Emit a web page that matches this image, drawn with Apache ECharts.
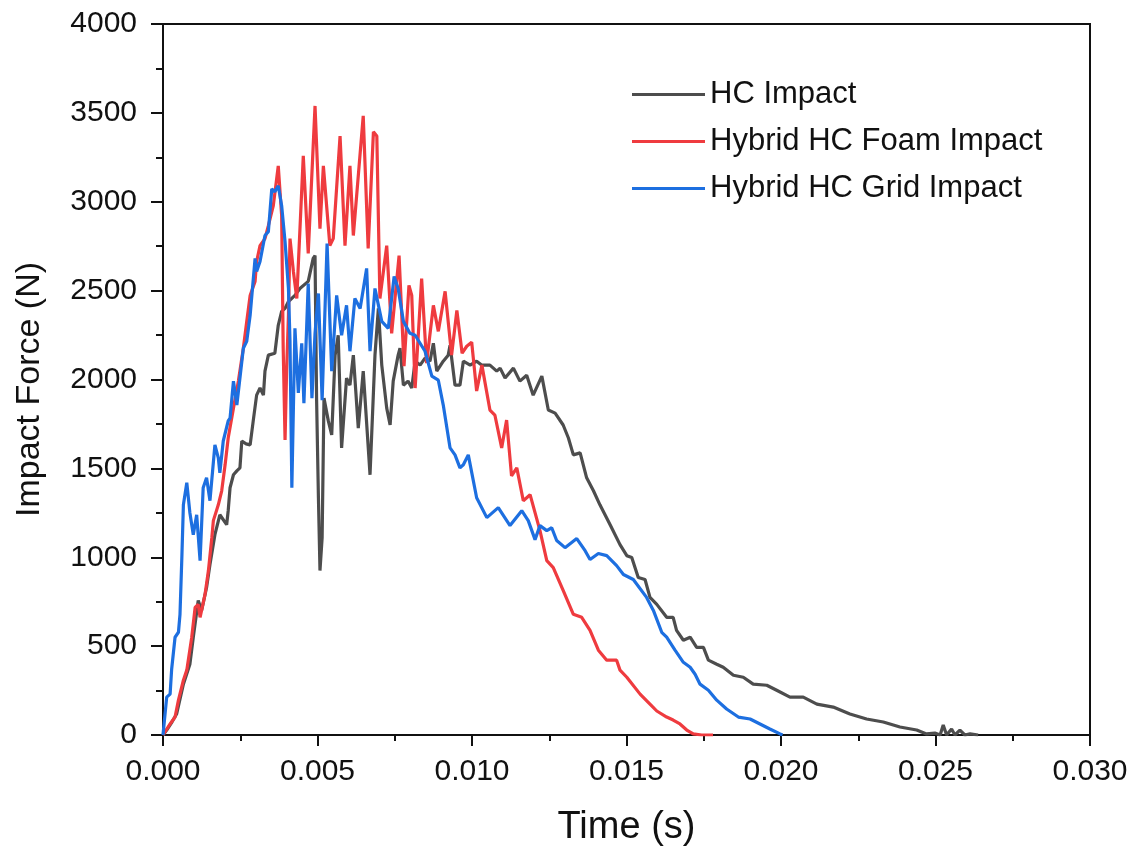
<!DOCTYPE html>
<html>
<head>
<meta charset="utf-8">
<script src="https://cdn.jsdelivr.net/npm/echarts@6/dist/echarts.min.js"></script>
<style>
html,body{margin:0;padding:0;background:#fff;}
#chart{width:1140px;height:852px;}
</style>
</head>
<body>
<div id="chart"></div>
<script>
const seriesNames = ['HC Impact', 'Hybrid HC Foam Impact', 'Hybrid HC Grid Impact'];
const seriesColors = ['#4d4d4d', '#ef3b3f', '#1d6fe0'];

const hcTime = [0,0.00012,0.00029,0.00044,0.00066,0.00087,0.00098,0.00114,0.00125,0.00141,
0.00152,0.00168,0.00184,0.00206,0.00211,0.00217,0.00228,0.00239,0.00249,0.00255,
0.00269,0.00282,0.00292,0.00303,0.00314,0.00325,0.00330,0.00341,0.00362,0.00373,
0.00384,0.00395,0.00406,0.00427,0.00443,0.00470,0.00486,0.00492,0.00497,0.00503,
0.00508,0.00515,0.00521,0.00535,0.00546,0.00557,0.00567,0.00578,0.00594,0.00605,
0.00616,0.00632,0.00648,0.00670,0.00686,0.00697,0.00708,0.00724,0.00735,0.00745,
0.00761,0.00767,0.00778,0.00793,0.00805,0.00816,0.00832,0.00848,0.00864,0.00875,
0.00886,0.00907,0.00923,0.00929,0.00945,0.00961,0.00972,0.00994,0.01015,0.01031,
0.01058,0.01080,0.01091,0.01107,0.01134,0.01155,0.01177,0.01198,0.01226,0.01247,
0.01269,0.01295,0.01312,0.01328,0.01350,0.01371,0.01393,0.01414,0.01447,0.01479,
0.01501,0.01517,0.01538,0.01560,0.01576,0.01598,0.01630,0.01651,0.01662,0.01684,
0.01706,0.01727,0.01749,0.01765,0.01792,0.01813,0.01846,0.01878,0.01910,0.01954,
0.01986,0.02029,0.02072,0.02116,0.02169,0.02223,0.02277,0.02331,0.02385,0.02439,
0.02471,0.02498,0.02515,0.02525,0.02536,0.02552,0.02563,0.02579,0.02595,0.02612,0.02638];
const hcForce = [0,28,73,118,286,398,550,757,701,830,
959,1127,1239,1183,1262,1391,1464,1486,1503,1654,
1638,1632,1767,1912,1952,1912,2047,2137,2148,2305,
2383,2400,2439,2473,2512,2552,2681,2697,1895,1335,
925,1110,1895,1767,1688,2137,2249,1615,2008,1968,
2137,1727,2047,1464,2137,2400,2081,1839,1744,1991,
2137,2176,1968,1991,1952,2103,2081,2120,2103,2204,
2047,2103,2137,2193,1968,1968,2103,2081,2103,2081,
2081,2047,2064,2008,2064,1991,2024,1912,2019,1828,
1811,1744,1671,1576,1587,1447,1374,1295,1183,1071,
1009,998,886,875,774,735,662,662,589,533,
550,493,493,421,398,381,336,325,286,280,
252,213,213,174,157,118,90,73,45,28,
6,11,0,56,0,34,0,28,0,6,0];

const foamTime = [0,0.00023,0.00039,0.00050,0.00066,0.00077,0.00093,0.00104,0.00114,0.00120,
0.00136,0.00147,0.00158,0.00163,0.00179,0.00190,0.00201,0.00211,0.00228,0.00244,
0.00260,0.00271,0.00282,0.00298,0.00303,0.00314,0.00330,0.00341,0.00357,0.00373,
0.00384,0.00389,0.00395,0.00400,0.00406,0.00411,0.00422,0.00433,0.00454,0.00470,
0.00492,0.00508,0.00519,0.00540,0.00551,0.00573,0.00589,0.00605,0.00616,0.00648,
0.00664,0.00681,0.00692,0.00702,0.00724,0.00740,0.00764,0.00780,0.00796,0.00805,
0.00816,0.00837,0.00853,0.00875,0.00891,0.00913,0.00934,0.00951,0.00968,0.00983,
0.00999,0.01015,0.01032,0.01058,0.01074,0.01096,0.01112,0.01128,0.01145,0.01166,
0.01188,0.01220,0.01242,0.01263,0.01295,0.01328,0.01355,0.01382,0.01409,0.01436,
0.01468,0.01479,0.01501,0.01544,0.01576,0.01598,0.01630,0.01651,0.01673,0.01695,
0.01716,0.01743,0.01780];
const foamForce = [0,62,101,196,308,365,550,718,735,662,
791,925,1110,1206,1295,1374,1520,1671,1839,1991,
2176,2327,2473,2552,2664,2753,2793,2866,2978,3202,
2922,2176,1660,2047,2361,2793,2608,2456,3258,2709,
3539,2849,3202,2753,2793,3370,2753,3202,2810,3483,
2737,3393,3370,2456,2753,2260,2697,2075,2529,2473,
1952,2568,2092,2417,2271,2496,2137,2389,2148,2187,
2210,1935,2081,1828,1800,1615,1772,1458,1503,1318,
1352,1150,981,942,813,679,662,589,477,421,
421,365,325,230,174,135,101,84,62,28,
6,0,0];

const gridTime = [0,0.00012,0.00023,0.00028,0.00039,0.00050,0.00055,0.00061,0.00066,0.00077,
0.00087,0.00098,0.00109,0.00120,0.00130,0.00141,0.00152,0.00168,0.00179,0.00184,
0.00195,0.00211,0.00217,0.00228,0.00239,0.00260,0.00271,0.00282,0.00298,0.00303,
0.00314,0.00330,0.00341,0.00352,0.00362,0.00373,0.00384,0.00395,0.00406,0.00411,
0.00417,0.00427,0.00438,0.00449,0.00456,0.00470,0.00482,0.00492,0.00503,0.00515,
0.00531,0.00546,0.00562,0.00578,0.00594,0.00605,0.00621,0.00638,0.00659,0.00670,
0.00686,0.00708,0.00729,0.00748,0.00761,0.00778,0.00799,0.00816,0.00832,0.00848,
0.00870,0.00891,0.00907,0.00929,0.00945,0.00961,0.00972,0.00988,0.01015,0.01048,
0.01085,0.01123,0.01161,0.01182,0.01204,0.01220,0.01242,0.01258,0.01274,0.01301,
0.01339,0.01366,0.01382,0.01409,0.01436,0.01468,0.01490,0.01522,0.01565,0.01587,
0.01614,0.01630,0.01657,0.01684,0.01706,0.01722,0.01738,0.01765,0.01792,0.01824,
0.01862,0.01900,0.01932,0.01964,0.01997,0.02005];
const gridForce = [0,213,230,370,550,578,679,998,1295,1419,
1251,1127,1239,981,1391,1447,1318,1632,1559,1475,
1654,1767,1783,1991,1856,2176,2215,2361,2681,2608,
2664,2810,2832,3073,3056,3090,2978,2776,2512,2215,
1391,2288,1924,2204,1867,2540,1895,2260,2484,1884,
2765,2047,2473,2249,2417,2159,2456,2400,2625,2159,
2512,2327,2288,2580,2512,2327,2260,2249,2204,2159,
2019,1996,1856,1615,1576,1503,1520,1576,1335,1223,
1279,1178,1262,1206,1099,1178,1150,1166,1094,1054,
1105,1037,987,1021,1009,953,903,875,774,701,
578,550,477,409,381,342,286,252,196,146,
101,90,62,34,6,0];

const xTicks = [0, 0.005, 0.010, 0.015, 0.020, 0.025, 0.030];
const yTicks = [0, 500, 1000, 1500, 2000, 2500, 3000, 3500, 4000];

function zip(t, f) { return t.map((v, i) => [v, f[i]]); }
const allData = [zip(hcTime, hcForce), zip(foamTime, foamForce), zip(gridTime, gridForce)];

const FONT = '"Liberation Sans", Arial, sans-serif';
const chart = echarts.init(document.getElementById('chart'), null, {renderer: 'canvas'});
chart.setOption({
  animation: false,
  backgroundColor: '#fff',
  textStyle: {fontFamily: FONT, color: '#111'},
  grid: {left: 163, right: 50, top: 24, bottom: 114, show: true, borderColor: '#111', borderWidth: 2, backgroundColor: 'transparent'},
  legend: {
    data: seriesNames,
    orient: 'vertical',
    left: 627, top: 74,
    itemWidth: 73, itemHeight: 3, itemGap: 16,
    icon: 'rect',
    textStyle: {fontFamily: FONT, fontSize: 31, color: '#111', lineHeight: 31}
  },
  xAxis: {
    type: 'value',
    min: xTicks[0], max: xTicks[xTicks.length - 1], interval: 0.005,
    name: 'Time (s)', nameLocation: 'middle', nameGap: 74,
    nameTextStyle: {fontFamily: FONT, fontSize: 38, color: '#111'},
    axisLine: {show: true, lineStyle: {color: '#111', width: 2}},
    axisTick: {show: true, inside: false, length: 11, lineStyle: {color: '#111', width: 2}},
    minorTick: {show: true, splitNumber: 2, length: 6, lineStyle: {color: '#111', width: 2}},
    splitLine: {show: false},
    axisLabel: {fontFamily: FONT, fontSize: 30, color: '#111', margin: 22,
      formatter: v => v.toFixed(3)}
  },
  yAxis: {
    type: 'value',
    min: yTicks[0], max: yTicks[yTicks.length - 1], interval: 500,
    name: 'Impact Force (N)', nameLocation: 'middle', nameGap: 116, nameRotate: 90,
    nameTextStyle: {fontFamily: FONT, fontSize: 34, color: '#111', padding: [0, 20, 0, 0]},
    axisLine: {show: true, lineStyle: {color: '#111', width: 2}},
    axisTick: {show: true, inside: false, length: 12, lineStyle: {color: '#111', width: 2}},
    minorTick: {show: true, splitNumber: 2, length: 7, lineStyle: {color: '#111', width: 2}},
    splitLine: {show: false},
    axisLabel: {fontFamily: FONT, fontSize: 30, color: '#111', margin: 26,
      formatter: v => String(v)}
  },
  series: allData.map((d, i) => ({
    name: seriesNames[i],
    type: 'line',
    data: d,
    symbol: 'none',
    showSymbol: false,
    smooth: false,
    itemStyle: {color: seriesColors[i]},
    lineStyle: {color: seriesColors[i], width: 3.2},
    z: 2 + i
  }))
});
</script>
</body>
</html>
